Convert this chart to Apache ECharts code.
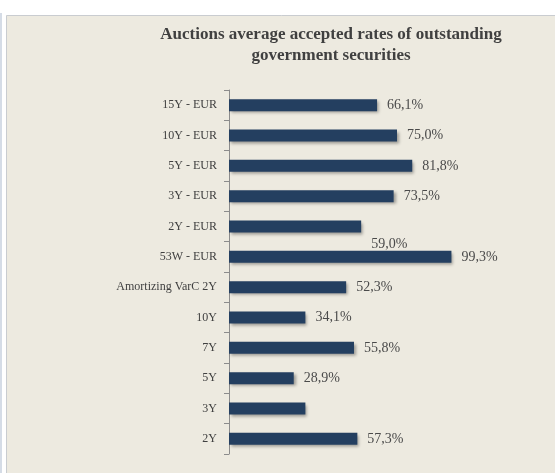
<!DOCTYPE html>
<html>
<head>
<meta charset="utf-8">
<style>
html,body{margin:0;padding:0;background:#fff;}
#c{width:555px;height:473px;}
</style>
<script src="https://cdn.jsdelivr.net/npm/echarts@6/dist/echarts.min.js"></script>
</head>
<body>
<div id="c"></div>
<script>
var categories = ['15Y - EUR','10Y - EUR','5Y - EUR','3Y - EUR','2Y - EUR','53W - EUR','Amortizing VarC 2Y','10Y','7Y','5Y','3Y','2Y'];
var values = [66.1, 75.0, 81.8, 73.5, 59.0, 99.3, 52.3, 34.1, 55.8, 28.9, 34.1, 57.3];
var labelShown = [true,true,true,true,true,true,true,true,true,true,false,true];
var titleText = 'Auctions average accepted rates of outstanding\ngovernment securities';

var chart = echarts.init(document.getElementById('c'), null, {renderer:'canvas'});
var fmt = function(v){ return v.toFixed(1).replace('.', ',') + '%'; };
var data = values.map(function(v,i){
  var d = {value: v, label: {show: labelShown[i]}};
  if (categories[i] === '2Y - EUR') { d.label.offset = [0, 18]; }
  return d;
});
chart.setOption({
  animation: false,
  backgroundColor: '#ffffff',
  graphic: [
    {type:'rect', shape:{x:6.5, y:15.5, width:560, height:470}, style:{fill:'#EDEAE0', stroke:'#C9CCD0', lineWidth:1}, z:-10},
    {type:'rect', shape:{x:0, y:13, width:2, height:470}, style:{fill:'#D5DCE6'}, z:-10}
  ],
  title: {
    text: titleText,
    left: 326, top: 19, textAlign: 'center',
    textStyle: {fontFamily:'Liberation Serif', fontWeight:'bold', fontSize:17, color:'#404040', lineHeight:21}
  },
  grid: {left:229, top:90, width:224, height:364, containLabel:false},
  xAxis: {type:'value', min:0, max:100, show:false},
  yAxis: {
    type:'category', data: categories, inverse: true,
    axisLine: {show:true, lineStyle:{color:'#8C8C8C', width:1}},
    axisTick: {show:true, length:5, lineStyle:{color:'#8C8C8C'}},
    axisLabel: {fontFamily:'Liberation Serif', fontSize:12, color:'#404040', margin:12},
    splitLine: {show:false}
  },
  series: [{
    type:'bar', data: data, barWidth: 12,
    itemStyle: {color:'#243F60', shadowColor:'rgba(0,0,0,0.35)', shadowBlur:3, shadowOffsetX:2, shadowOffsetY:2},
    label: {show:true, position:'right', distance:10, formatter: function(p){return fmt(p.value);},
      fontFamily:'Liberation Serif', fontSize:14, color:'#4a4a4a'}
  }]
});
</script>
</body>
</html>
